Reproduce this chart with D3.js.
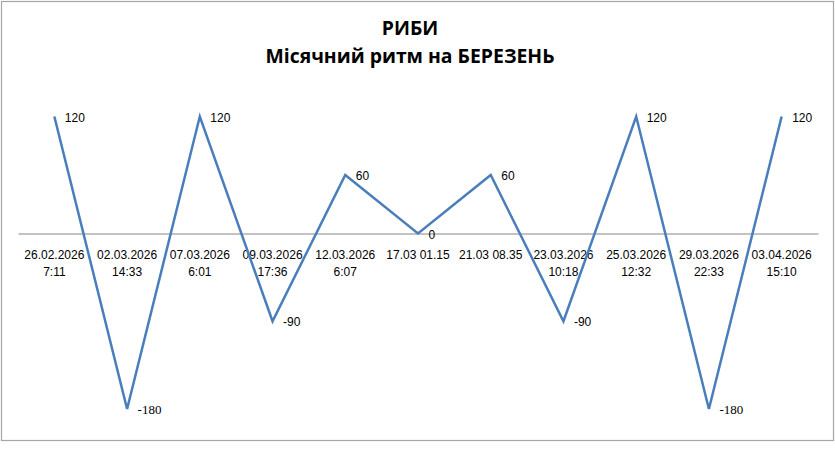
<!DOCTYPE html>
<html><head><meta charset="utf-8">
<script src="https://cdn.jsdelivr.net/npm/d3@7"></script>
<style>body{margin:0;background:#fff}svg{display:block}</style>
</head><body>
<svg id="c" width="835" height="463"></svg>
<script>
const titleLines = ["РИБИ", "Місячний ритм на БЕРЕЗЕНЬ"];
const categories = [
  ["26.02.2026", "7:11"],
  ["02.03.2026", "14:33"],
  ["07.03.2026", "6:01"],
  ["09.03.2026", "17:36"],
  ["12.03.2026", "6:07"],
  ["17.03 01.15"],
  ["21.03 08.35"],
  ["23.03.2026", "10:18"],
  ["25.03.2026", "12:32"],
  ["29.03.2026", "22:33"],
  ["03.04.2026", "15:10"]
];
const values = [120, -180, 120, -90, 60, 0, 60, -90, 120, -180, 120];

const svg = d3.select("#c");
svg.append("rect").attr("x", 1.5).attr("y", 1.5).attr("width", 832).attr("height", 439)
  .attr("fill", "#fff").attr("stroke", "#a6a6a6").attr("stroke-width", 1.2);

const x = d3.scaleBand().domain(d3.range(categories.length)).range([18, 818]);
const y = d3.scaleLinear().domain([-200, 140]).range([428.5, 97]);

svg.append("g").selectAll("text").data(titleLines).join("text")
  .attr("x", 410).attr("y", (d, i) => 35 + i * 28)
  .attr("text-anchor", "middle")
  .attr("font-family", "'Open Sans', sans-serif").attr("font-weight", "bold")
  .attr("font-size", 19.4).attr("fill", "#000").text(d => d);

// category axis
const axisG = svg.append("g").attr("transform", `translate(0,${y(0)})`);
axisG.call(d3.axisBottom(x).tickSize(0).tickFormat(""));
axisG.select(".domain").attr("stroke", "#868686").attr("stroke-width", 1);

const cx = i => x(i) + x.bandwidth() / 2;

const lab = svg.append("g").selectAll("text").data(categories).join("text")
  .attr("text-anchor", "middle")
  .attr("font-family", "'Liberation Sans', Arial, sans-serif").attr("font-size", 12)
  .attr("fill", "#000");
lab.each(function(d, i) {
  const t = d3.select(this);
  d.forEach((ln, j) => {
    t.append("tspan").attr("x", cx(i)).attr("y", y(0) + 25.5 + j * 17).text(ln);
  });
});

const line = d3.line().x((d, i) => cx(i)).y(d => y(d));
svg.append("path").datum(values).attr("d", line)
  .attr("fill", "none").attr("stroke", "#4a7ebb").attr("stroke-width", 2.5)
  .attr("stroke-linejoin", "miter");

svg.append("g").selectAll("text").data(values).join("text")
  .attr("x", (d, i) => cx(i) + 10.5)
  .attr("y", d => y(d) + 5)
  .attr("font-family", d => d === -180 ? "'Liberation Serif', serif" : "'Liberation Sans', Arial, sans-serif")
  .attr("font-size", d => d === -180 ? 13 : 12)
  .attr("fill", "#000")
  .text(d => d);
</script>
</body></html>
